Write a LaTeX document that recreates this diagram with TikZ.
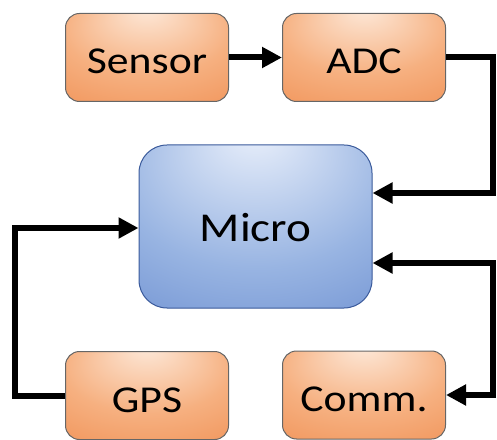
\documentclass[tikz,border=0pt]{standalone}
\usepackage{fontspec}
\setmainfont{Carlito}[FakeStretch=1.15]
\usetikzlibrary{arrows.meta}

\definecolor{orlight}{RGB}{253,232,216}
\definecolor{ormid}{RGB}{246,176,128}
\definecolor{ordark}{RGB}{237,128,62}
\definecolor{bllight}{RGB}{234,240,251}
\definecolor{blmid}{RGB}{152,180,226}
\definecolor{bldark}{RGB}{72,112,194}
\pgfdeclareradialshading{orangeglow}{\pgfpoint{0bp}{28bp}}{color(0bp)=(orlight); color(26bp)=(ormid); color(60bp)=(ordark)}
\pgfdeclareradialshading{blueglow}{\pgfpoint{0bp}{30bp}}{color(0bp)=(bllight); color(30bp)=(blmid); color(70bp)=(bldark)}

\tikzset{
  block/.style={draw=black!60, line width=1pt, rounded corners=14pt, shading=orangeglow,
    minimum width=163pt, minimum height=88pt, inner sep=0pt,
    font=\fontsize{38}{40}\selectfont, text height=33pt, text depth=0pt},
  core/.style={block, draw=bldark!80!black, shading=blueglow, rounded corners=28pt,
    minimum width=233pt, minimum height=163pt, font=\fontsize{41}{44}\selectfont, text height=31pt},
  tip/.style={Triangle[length=20pt,width=20pt]},
  link/.style={line width=6pt, -{Triangle[length=20pt,width=20pt]}}
}

\begin{document}
\begin{tikzpicture}[x=1pt,y=1pt]
  \useasboundingbox (0,0) rectangle (497,439);
  % blocks
  \node[block] (sensor) at (147,381.5) {Sensor};
  \node[block] (adc) at (364,381.5) {ADC};
  \node[core] (micro) at (255.5,212.5) {Micro};
  \node[block] (gps) at (147,43.5) {GPS};
  \node[block] (comm) at (364,44) {Comm.};
  % bends
  \coordinate (rt1) at (493,246);
  \coordinate (rt2) at (493,176);
  \coordinate (lt) at (15,211);
  % links
  \draw[link] (sensor) -- (adc);
  \draw[link] (adc.east) -| (rt1) -- (rt1 -| micro.east);
  \draw[link,{Triangle[length=20pt,width=20pt]}-{Triangle[length=20pt,width=20pt]}] (rt2 -| micro.east) -- (rt2) |- (comm.east);
  \draw[link] (gps.west) -| (lt) -- (lt -| micro.west);
\end{tikzpicture}
\end{document}
